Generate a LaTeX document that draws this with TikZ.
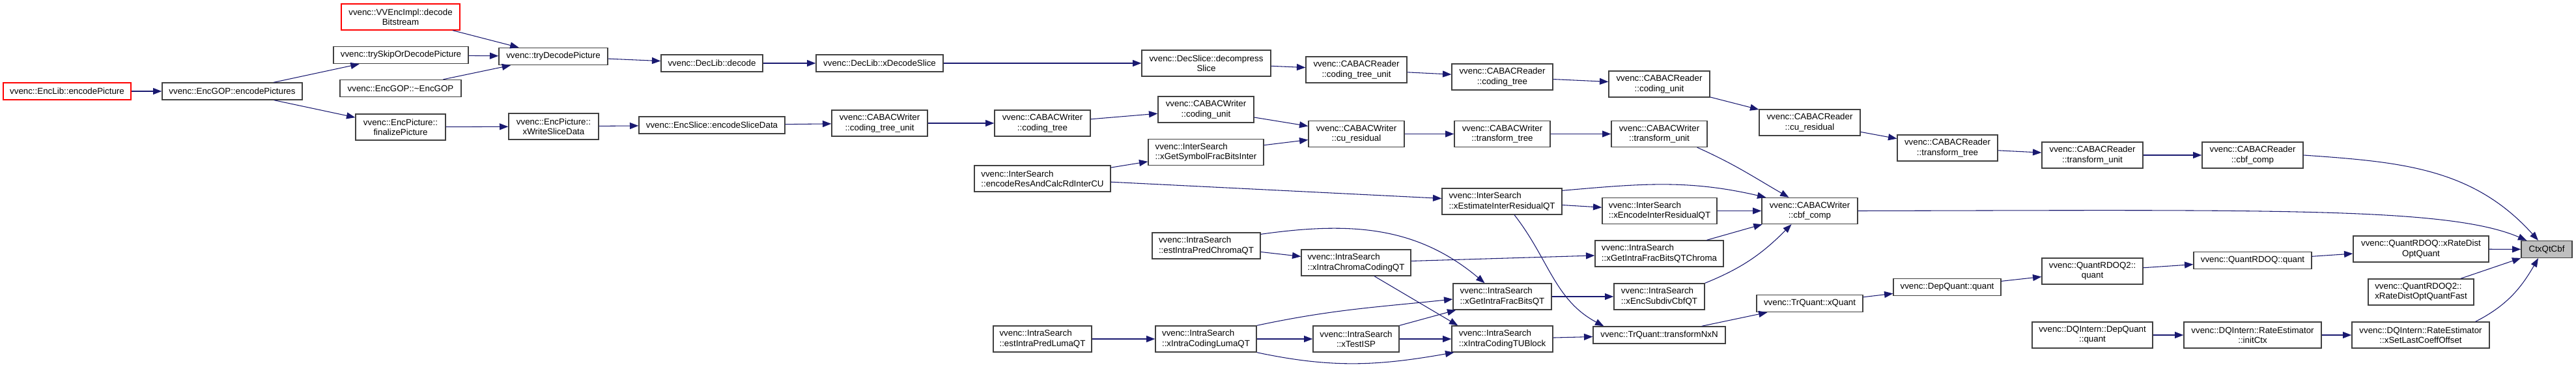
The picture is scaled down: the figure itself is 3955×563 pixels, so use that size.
\documentclass[tikz,border=0pt]{standalone}
\usepackage{fontspec}
\setsansfont{Liberation Sans}
\usepackage{xcolor}
\definecolor{edge}{HTML}{191970}
\definecolor{frame}{HTML}{404040}
\definecolor{rootgrey}{HTML}{BFBFBF}
\definecolor{hot}{HTML}{FF0000}
\usepackage{tikz}
\usetikzlibrary{arrows.meta,calc}
\tikzset{
  >={Triangle[length=10pt,width=7.5pt]},
  font=\sffamily\fontsize{10}{11.5}\selectfont,
  box/.style={draw=frame,line width=1pt,fill=white,align=center,inner sep=2pt,minimum height=19.5pt},
  box2/.style={box,minimum height=30pt},
  boxl/.style={box2,align=left},
  miss/.style={draw=hot},
  root/.style={box,fill=rootgrey},
  boxw/.style={minimum width=#1*0.75pt},
  call/.style={->,line width=0.8pt,draw=edge},
}

\begin{document}
\begin{tikzpicture}[x=0.75pt,y=0.75pt]
  \useasboundingbox (0,0) rectangle (3955,-563);

  % callers, column by column
  \node[box,miss,boxw=196] (encPic) at (103,-140) {vvenc::EncLib::encodePicture};
  \node[box,boxw=215] (encPics) at (356.5,-140) {vvenc::EncGOP::encodePictures};

  \node[box2,miss,boxw=182] (decBits) at (615,-26) {vvenc::VVEncImpl::decode\\Bitstream};
  \node[box,boxw=207] (trySkip) at (615.5,-84.5) {vvenc::trySkipOrDecodePicture};
  \node[box,boxw=186] (dtorGop) at (615,-135.5) {vvenc::EncGOP::\textasciitilde EncGOP};
  \node[box2,boxw=138] (finPic) at (615,-195) {vvenc::EncPicture::\\finalizePicture};

  \node[box,boxw=167] (tryDec) at (849.5,-86.5) {vvenc::tryDecodePicture};
  \node[box2,boxw=138] (wrSlice) at (850,-194) {vvenc::EncPicture::\\xWriteSliceData};

  \node[box,boxw=156] (decode) at (1093,-97) {vvenc::DecLib::decode};
  \node[box,boxw=224] (encSlData) at (1093,-192) {vvenc::EncSlice::encodeSliceData};

  \node[box,boxw=195] (xDecSl) at (1350.5,-97) {vvenc::DecLib::xDecodeSlice};
  \node[box2,boxw=147] (wCtu) at (1350.5,-189) {vvenc::CABACWriter\\::coding\_tree\_unit};

  \node[box2,boxw=147] (wCt) at (1600.5,-189) {vvenc::CABACWriter\\::coding\_tree};
  \node[boxl,boxw=209] (resCalc) at (1600.5,-274) {vvenc::InterSearch\\::encodeResAndCalcRdInterCU};
  \node[boxl,boxw=151] (estLuma) at (1600.5,-520) {vvenc::IntraSearch\\::estIntraPredLumaQT};

  \node[box2,boxw=198] (decompSl) at (1852,-97) {vvenc::DecSlice::decompress\\Slice};
  \node[box2,boxw=147] (wCu) at (1851.5,-168) {vvenc::CABACWriter\\::coding\_unit};
  \node[boxl,boxw=177] (symFrac) at (1851.5,-233.5) {vvenc::InterSearch\\::xGetSymbolFracBitsInter};
  \node[boxl,boxw=166] (estChr) at (1852,-377) {vvenc::IntraSearch\\::estIntraPredChromaQT};
  \node[boxl,boxw=155] (lumaQT) at (1851.5,-520) {vvenc::IntraSearch\\::xIntraCodingLumaQT};

  \node[box2,boxw=155] (rCtu) at (2082.5,-107) {vvenc::CABACReader\\::coding\_tree\_unit};
  \node[box2,boxw=147] (wRes) at (2082.5,-205.5) {vvenc::CABACWriter\\::cu\_residual};
  \node[boxl,boxw=168] (chrQT) at (2082,-403) {vvenc::IntraSearch\\::xIntraChromaCodingQT};
  \node[box2,boxw=132] (testIsp) at (2082,-520) {vvenc::IntraSearch\\::xTestISP};

  \node[box2,boxw=155] (rCt) at (2306.5,-118) {vvenc::CABACReader\\::coding\_tree};
  \node[box2,boxw=147] (wTt) at (2306.5,-205.5) {vvenc::CABACWriter\\::transform\_tree};
  \node[boxl,boxw=184] (estInter) at (2306,-309) {vvenc::InterSearch\\::xEstimateInterResidualQT};
  \node[boxl,boxw=151] (fracQT) at (2306.5,-455) {vvenc::IntraSearch\\::xGetIntraFracBitsQT};
  \node[boxl,boxw=155] (tuBlk) at (2306.5,-520) {vvenc::IntraSearch\\::xIntraCodingTUBlock};

  \node[box2,boxw=155] (rCu) at (2547.5,-129) {vvenc::CABACReader\\::coding\_unit};
  \node[box2,boxw=147] (wTu) at (2547.5,-205.5) {vvenc::CABACWriter\\::transform\_unit};
  \node[boxl,boxw=176] (encInter) at (2548,-323.5) {vvenc::InterSearch\\::xEncodeInterResidualQT};
  \node[boxl,boxw=197] (fracChr) at (2547.5,-389) {vvenc::IntraSearch\\::xGetIntraFracBitsQTChroma};
  \node[boxl,boxw=139] (subdiv) at (2547.5,-455) {vvenc::IntraSearch\\::xEncSubdivCbfQT};
  \node[box,boxw=203] (nxn) at (2547.5,-514) {vvenc::TrQuant::transformNxN};

  \node[box2,boxw=155] (rRes) at (2778.5,-188) {vvenc::CABACReader\\::cu\_residual};
  \node[box2,boxw=147] (wCbf) at (2778.5,-323.5) {vvenc::CABACWriter\\::cbf\_comp};
  \node[box,boxw=163] (xQuant) at (2778.5,-465.5) {vvenc::TrQuant::xQuant};

  \node[box2,boxw=154] (rTt) at (2990,-227) {vvenc::CABACReader\\::transform\_tree};
  \node[box,boxw=165] (depQ) at (2989.5,-440.5) {vvenc::DepQuant::quant};

  \node[box2,boxw=155] (rTu) at (3212.5,-238) {vvenc::CABACReader\\::transform\_unit};
  \node[box2,boxw=155] (rdoq2) at (3212.5,-416) {vvenc::QuantRDOQ2::\\quant};
  \node[box2,boxw=185] (dqQuant) at (3212.5,-514) {vvenc::DQIntern::DepQuant\\::quant};

  \node[box2,boxw=155] (rCbf) at (3458.5,-238) {vvenc::CABACReader\\::cbf\_comp};
  \node[box,boxw=181] (rdoq) at (3458.5,-399.5) {vvenc::QuantRDOQ::quant};
  \node[box2,boxw=211] (initCtx) at (3458.5,-514) {vvenc::DQIntern::RateEstimator\\::initCtx};

  \node[box2,boxw=208] (rdOpt) at (3717,-382) {vvenc::QuantRDOQ::xRateDist\\OptQuant};
  \node[boxl,boxw=162] (rdFast) at (3717,-448) {vvenc::QuantRDOQ2::\\xRateDistOptQuantFast};
  \node[box2,boxw=211] (lastCoef) at (3716.5,-514) {vvenc::DQIntern::RateEstimator\\::xSetLastCoeffOffset};

  \node[root,boxw=78] (ctx) at (3910,-382.5) {CtxQtCbf};

  % decoder chain
  \draw[call] (encPic) -- (encPics);
  \draw[call] (encPics) -- (trySkip);
  \draw[call] (encPics) -- (finPic);
  \draw[call] (decBits) -- (tryDec);
  \draw[call] (trySkip) -- (tryDec);
  \draw[call] (dtorGop) -- (tryDec);
  \draw[call] (tryDec) -- (decode);
  \draw[call] (decode) -- (xDecSl);
  \draw[call] (xDecSl) -- (decompSl);
  \draw[call] (decompSl) -- (rCtu);
  \draw[call] (rCtu) -- (rCt);
  \draw[call] (rCt) -- (rCu);
  \draw[call] (rCu) -- (rRes);
  \draw[call] (rRes) -- (rTt);
  \draw[call] (rTt) -- (rTu);
  \draw[call] (rTu) -- (rCbf);
  \draw[call] (rCbf.east) to[out=-4,in=132] ($(ctx.north)+(-13,0)$);

  % writer chain
  \draw[call] (finPic) -- (wrSlice);
  \draw[call] (wrSlice) -- (encSlData);
  \draw[call] (encSlData) -- (wCtu);
  \draw[call] (wCtu) -- (wCt);
  \draw[call] (wCt) -- (wCu);
  \draw[call] (wCu) -- (wRes);
  \draw[call] (symFrac) -- (wRes);
  \draw[call] (resCalc) -- (symFrac);
  \draw[call] (resCalc) -- (estInter);
  \draw[call] (wRes) -- (wTt);
  \draw[call] (wTt) -- (wTu);
  \draw[call] ($(wTu.south east)+(-16,0)$) to[out=-24,in=150] ($(wCbf.north)+(-32,0)$);
  \draw[call] ($(estInter.north east)+(0,-4)$) to[out=5,in=167] ($(wCbf.north west)+(7,0)$);
  \draw[call] (estInter) -- (encInter);
  \draw[call] ($(estInter.south)+(19,0)$) to[out=-52,in=152] ($(nxn.north west)+(17,0)$);
  \draw[call] (encInter) -- (wCbf);
  \draw[call] (fracChr) -- (wCbf);
  \draw[call] (subdiv.north east) to[out=22,in=-135] ($(wCbf.south)+(-28,0)$);
  \draw[call] (wCbf.east) .. controls (3500,-322) and (3760,-318) .. ($(ctx.north west)+(9,0)$);

  % intra search
  \draw[call] (estChr) -- (chrQT);
  \draw[call] ($(estChr.north east)+(0,-3)$) to[out=8,in=140] ($(fracQT.north)+(-27,0)$);
  \draw[call] (chrQT) -- (fracChr);
  \draw[call] ($(chrQT.south)+(28,0)$) -- ($(tuBlk.north west)+(10,0)$);
  \draw[call] (estLuma) -- (lumaQT);
  \draw[call] (lumaQT.north east) to[out=12,in=186] ($(fracQT.west)+(0,-4)$);
  \draw[call] (lumaQT) -- (testIsp);
  \draw[call] (lumaQT.south east) to[out=-12,in=190] ($(tuBlk.south west)+(4,0)$);
  \draw[call] (testIsp.north east) -- ($(fracQT.south west)+(5,0)$);
  \draw[call] (testIsp) -- (tuBlk);
  \draw[call] (fracQT) -- (subdiv);
  \draw[call] (tuBlk) -- (nxn);

  % quantisers
  \draw[call] (nxn) -- (xQuant);
  \draw[call] (xQuant) -- (depQ);
  \draw[call] (depQ) -- (rdoq2);
  \draw[call] (rdoq2) -- (rdoq);
  \draw[call] (rdoq) -- (rdOpt);
  \draw[call] (rdOpt) -- (ctx);
  \draw[call] (rdFast) -- (ctx);
  \draw[call] (dqQuant) -- (initCtx);
  \draw[call] (initCtx) -- (lastCoef);
  \draw[call] ($(lastCoef.north east)+(-22,0)$) to[out=27,in=-120] ($(ctx.south)+(-13,0)$);
\end{tikzpicture}
\end{document}
